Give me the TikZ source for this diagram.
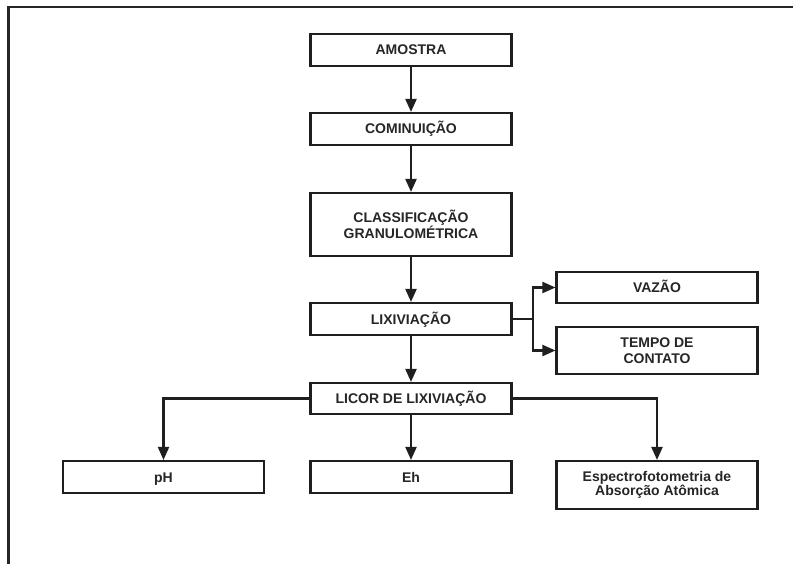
\documentclass[tikz,border=0pt]{standalone}
\usepackage{fontspec}
\setmainfont{Liberation Sans}
\usetikzlibrary{arrows.meta}
\begin{document}
\begin{tikzpicture}[x=1pt,y=-1pt,
  box/.style={draw=black!88, line width=2.1pt, fill=white, minimum width=201pt,
    align=center, font=\fontsize{14}{15.5}\selectfont\bfseries, inner sep=0pt, text=black!85},
  onebox/.style={box, text height=10pt, text depth=0pt},
  lowbox/.style={box, font=\fontsize{14}{13.5}\selectfont\bfseries},
  conn/.style={draw=black!88, line width=2.1pt, -{Triangle[length=13pt,width=11pt]}},
  plainline/.style={draw=black!88, line width=2.1pt}]
\useasboundingbox (0,0) rectangle (793,564);
\draw[line width=2.6pt, black!85] (793,7) -- (8.5,7) -- (8.5,564);
\node[onebox, minimum height=32pt] (amostra) at (411,50) {AMOSTRA};
\node[onebox, minimum height=32pt] (comin) at (411,129) {COMINUIÇÃO};
\node[box, minimum height=63pt] (classif) at (411,224.5) {CLASSIFICAÇÃO\\GRANULOMÉTRICA};
\node[onebox, minimum height=32pt] (lix) at (411,319) {LIXIVIAÇÃO};
\node[onebox, minimum height=31pt] (vazao) at (657,287.5) {VAZÃO};
\node[box, minimum height=47pt] (tempo) at (657,350.5) {TEMPO DE\\CONTATO};
\node[onebox, minimum height=31pt] (licor) at (411,398.5) {LICOR DE LIXIVIAÇÃO};
\node[onebox, minimum height=32pt] (ph) at (163.5,477) {pH};
\node[onebox, minimum height=32pt] (eh) at (411,477) {Eh};
\node[lowbox, minimum height=48pt] (esp) at (657,485) {Espectrofotometria de\\Absorção Atômica};
\coordinate (br) at (533,319);
\draw[conn] (amostra.south) -- (comin.north);
\draw[conn] (comin.south) -- (classif.north);
\draw[conn] (classif.south) -- (lix.north);
\draw[conn] (lix.south) -- (licor.north);
\draw[plainline] (lix.east) -- (br);
\draw[conn] (br) |- (vazao.west);
\draw[conn] (br) |- (tempo.west);
\draw[conn] (licor.west) -| (ph.north);
\draw[conn] (licor.south) -- (eh.north);
\draw[conn] (licor.east) -| (esp.north);
\end{tikzpicture}
\end{document}
